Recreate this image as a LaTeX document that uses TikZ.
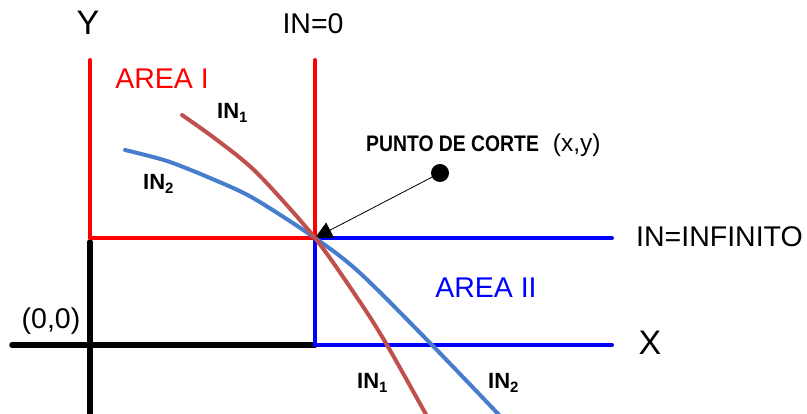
\documentclass[tikz,border=0pt]{standalone}
\usepackage{fontspec}
\setmainfont{Liberation Sans}
\usepackage{tikz}
\usetikzlibrary{arrows.meta}
\pgfdeclarelayer{edgelayer}
\pgfdeclarelayer{nodelayer}
\pgfsetlayers{edgelayer,nodelayer,main}
\definecolor{curvered}{RGB}{192,80,77}
\definecolor{curveblue}{RGB}{70,125,205}
\tikzstyle{none}=[inner sep=0pt]
\tikzstyle{axis}=[draw=black, line width=5.5pt, line cap=round]
\tikzstyle{redline}=[draw=red, line width=4pt, line cap=round]
\tikzstyle{blueline}=[draw=blue, line width=4pt, line cap=round]
\tikzstyle{curve one}=[draw=curvered, line width=4pt, line cap=round]
\tikzstyle{curve two}=[draw=curveblue, line width=4pt, line cap=round]
\tikzstyle{pointer}=[draw=black, line width=0.8pt, -{Triangle[length=17pt,width=17pt]}]
\tikzstyle{dot}=[circle, fill=black, minimum size=18pt, inner sep=0pt]
\tikzstyle{big}=[inner sep=0pt, anchor=base, font=\fontsize{28.5}{30}\selectfont]
\tikzstyle{huge}=[inner sep=0pt, anchor=base, font=\fontsize{34}{36}\selectfont]
\tikzstyle{curvelabel}=[inner sep=0pt, anchor=base west, font=\fontsize{22}{24}\selectfont\bfseries]
\newcommand{\inlab}[1]{IN\raisebox{-3.5pt}{\fontsize{15}{15}\selectfont #1}}

\begin{document}
\begin{tikzpicture}[x=1pt, y=-1pt]
			\useasboundingbox (0, 0) rectangle (807, 414);
			\begin{pgfonlayer}{nodelayer}
			\node [style=none] (0) at (90, 60) {};
			\node [style=none] (1) at (90, 238) {};
			\node [style=none] (2) at (315, 60) {};
			\node [style=none] (3) at (315, 238) {};
			\node [style=none] (4) at (612, 238) {};
			\node [style=none] (5) at (315, 345) {};
			\node [style=none] (6) at (612, 345) {};
			\node [style=none] (7) at (12, 345) {};
			\node [style=none] (8) at (90, 242) {};
			\node [style=none] (9) at (90, 420) {};
			\node [style=dot] (10) at (440, 173) {};
			\node [style=none] (11) at (182, 115) {};
			\node [style=none] (12) at (217, 140) {};
			\node [style=none] (13) at (257, 173) {};
			\node [style=none] (14) at (360, 302) {};
			\node [style=none] (15) at (387, 345) {};
			\node [style=none] (16) at (428, 418) {};
			\node [style=none] (17) at (125, 150) {};
			\node [style=none] (18) at (167, 161) {};
			\node [style=none] (19) at (210, 178) {};
			\node [style=none] (20) at (253, 198) {};
			\node [style=none] (21) at (360, 273) {};
			\node [style=none] (22) at (432, 345) {};
			\node [style=none] (23) at (502, 418) {};
			\node [style=huge] (24) at (88, 35) {Y};
			\node [style=big] (25) at (313, 34) {IN=0};
			\node [style=big, text=red] (26) at (162, 89) {AREA I};
			\node [style=big, text=blue] (27) at (486, 298) {AREA II};
			\node [style=big, anchor=base west] (28) at (636, 247) {IN=INFINITO};
			\node [style=huge] (29) at (650, 355) {X};
			\node [style=big] (30) at (51, 329) {(0,0)};
			\node [style=curvelabel] (31) at (217, 119) {\inlab{1}};
			\node [style=curvelabel] (32) at (143, 190) {\inlab{2}};
			\node [style=curvelabel] (33) at (357, 389) {\inlab{1}};
			\node [style=curvelabel] (34) at (488, 389) {\inlab{2}};
			\node [style=none, anchor=base west, font=\fontsize{22.5}{24}\selectfont] (35) at (366, 152) {\scalebox{0.86}[1]{\bfseries PUNTO DE CORTE}\hspace{14pt}\fontsize{24.5}{26}\selectfont(x,y)};
			\end{pgfonlayer}
			\begin{pgfonlayer}{edgelayer}
			\draw [style=axis] (7.center) to (5.center);
			\draw [style=axis] (8.center) to (9.center);
			\draw [style=redline] (0.center) to (1.center);
			\draw [style=redline] (2.center) to (3.center);
			\draw [style=redline] (1.center) to (3.center);
			\draw [style=blueline] (3.center) to (4.center);
			\draw [style=blueline] (3.center) to (5.center);
			\draw [style=blueline] (5.center) to (6.center);
			\draw [style=pointer] (10.center) to (3.center);
			\draw [style=curve two] plot [smooth] coordinates {(17.center) (18.center) (19.center) (20.center) (3.center) (21.center) (22.center) (23.center)};
			\draw [style=curve one] plot [smooth] coordinates {(11.center) (12.center) (13.center) (3.center) (14.center) (15.center) (16.center)};
			\end{pgfonlayer}
\end{tikzpicture}
\end{document}
